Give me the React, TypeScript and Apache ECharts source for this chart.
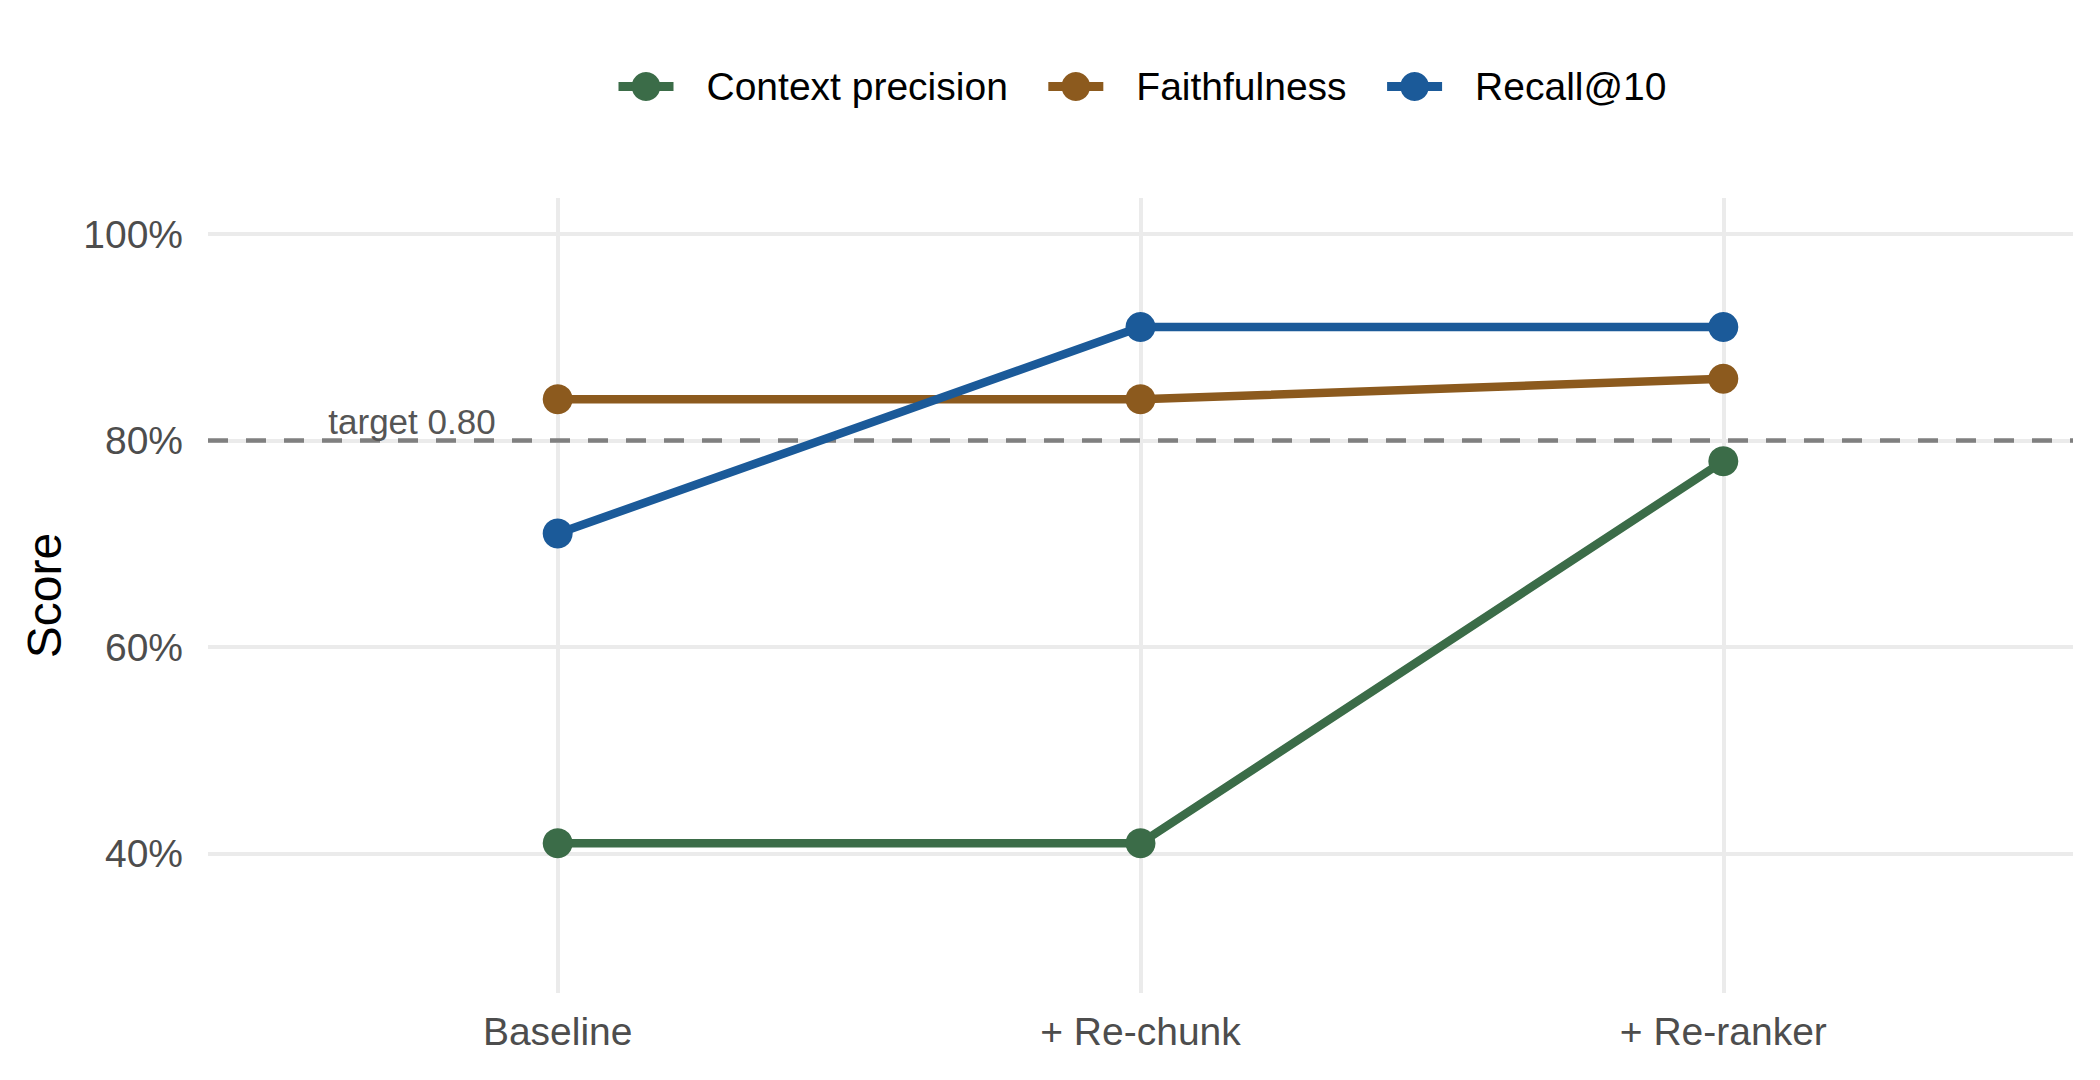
import React, { useEffect, useRef } from "react";
import * as echarts from "echarts";

const categories = ["Baseline", "+ Re-chunk", "+ Re-ranker"];
const seriesNames = ["Context precision", "Faithfulness", "Recall@10"];
const contextPrecision = [0.41, 0.41, 0.78];
const faithfulness = [0.84, 0.84, 0.86];
const recall10 = [0.71, 0.91, 0.91];
const seriesColors = ["#3b6c48", "#8c5a1e", "#1b5a99"];
const yTicks = [0.4, 0.6, 0.8, 1.0];
const xTicks = [0, 1, 2];
const targetValue = 0.8;
const targetLabel = "target 0.80";
const targetLabelX = -0.25;

const FONT = "'Liberation Sans', Arial, Helvetica, sans-serif";

export default function App() {
  const ref = useRef<HTMLDivElement>(null);
  useEffect(() => {
    if (!ref.current) return;
    const chart = echarts.init(ref.current, null, { renderer: "svg" });
    const values = [contextPrecision, faithfulness, recall10];
    const option: any = {
      animation: false,
      backgroundColor: "#ffffff",
      textStyle: { fontFamily: FONT },
      grid: { left: 208, right: 27, top: 198, bottom: 87, containLabel: false },
      legend: {
        data: seriesNames,
        left: 609,
        top: 62,
        itemWidth: 55,
        itemHeight: 36,
        itemGap: 36,
        lineStyle: { width: 9 },
        textStyle: {
          fontSize: 39,
          color: "#000000",
          fontFamily: FONT,
          padding: [0, 0, 0, 28],
        },
      },
      xAxis: {
        type: "value",
        min: -0.6,
        max: 2.6,
        axisLine: { show: false },
        axisTick: { show: false },
        splitLine: { show: false },
        axisLabel: {
          customValues: xTicks,
          formatter: (v: number) => categories[Math.round(v)] ?? "",
          fontSize: 39,
          color: "#4d4d4d",
          margin: 19,
          fontFamily: FONT,
        },
      },
      yAxis: {
        type: "value",
        min: 0.265,
        max: 1.035,
        name: "Score",
        nameLocation: "middle",
        nameGap: 140,
        nameRotate: 90,
        nameTextStyle: { fontSize: 48, color: "#000000", fontFamily: FONT },
        axisLine: { show: false },
        axisTick: { show: false },
        splitLine: { show: false },
        axisLabel: {
          customValues: yTicks,
          formatter: (v: number) => Math.round(v * 100) + "%",
          fontSize: 39,
          color: "#4d4d4d",
          margin: 25,
          fontFamily: FONT,
        },
      },
      series: [
        {
          name: "__grid",
          type: "line",
          data: [],
          z: 0,
          silent: true,
          markLine: {
            silent: true,
            z: 1,
            symbol: "none",
            animation: false,
            label: { show: false },
            emphasis: { disabled: true },
            data: [
              ...yTicks.map((v) => ({
                yAxis: v,
                lineStyle: { color: "#ebebeb", width: 4, type: "solid" },
              })),
              ...xTicks.map((v) => ({
                xAxis: v,
                lineStyle: { color: "#ebebeb", width: 4, type: "solid" },
              })),
              {
                yAxis: targetValue,
                lineStyle: { color: "#808080", width: 4.5, type: [20, 18] },
              },
            ],
          },
          markPoint: {
            silent: true,
            z: 1,
            symbol: "circle",
            symbolSize: 0,
            animation: false,
            data: [
              {
                coord: [targetLabelX, targetValue],
                label: {
                  show: true,
                  formatter: targetLabel,
                  position: "top",
                  distance: 2,
                  fontSize: 35,
                  color: "#555555",
                  fontFamily: FONT,
                },
              },
            ],
          },
        },
        ...seriesNames.map((name, si) => ({
          name,
          type: "line",
          z: 3 + si,
          data: categories.map((_, i) => [i, values[si][i]]),
          symbol: "circle",
          symbolSize: 30,
          showSymbol: true,
          lineStyle: { color: seriesColors[si], width: 8.5 },
          itemStyle: { color: seriesColors[si] },
          emphasis: { disabled: true },
        })),
      ],
    };
    chart.setOption(option);
    return () => chart.dispose();
  }, []);
  return (
    <div
      ref={ref}
      style={{ position: "fixed", left: 0, top: 0, width: 2100, height: 1080, background: "#fff" }}
    />
  );
}
